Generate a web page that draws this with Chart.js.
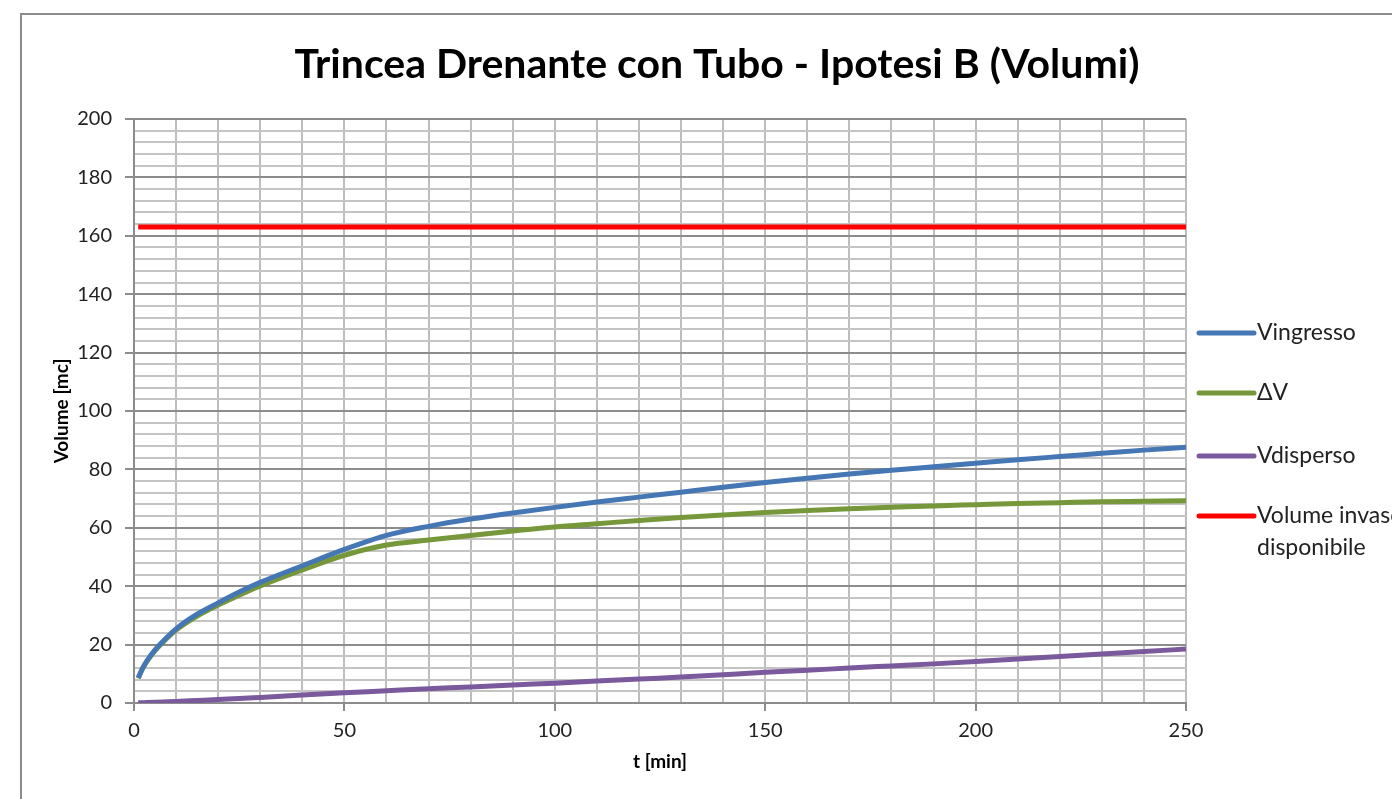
<!DOCTYPE html>
<html>
<head>
<meta charset="utf-8">
<script src="https://cdn.jsdelivr.net/npm/chart.js@4"></script>
<style>
  html,body{margin:0;padding:0;background:#fff;overflow:hidden}
  #wrap{position:relative;width:1392px;height:799px}
  #frame{position:absolute;left:20px;top:13px;width:1400px;height:800px;
    border-left:2px solid #8c8c8c;border-top:2px solid #8c8c8c;box-sizing:border-box}
  canvas{position:absolute;left:0;top:0}
</style>
</head>
<body>
<div id="wrap">
  <div id="frame"></div>
  <canvas id="c" width="1392" height="799"></canvas>
</div>
<script>
// tempi [min]
const tempi = [1,2,3,5,7,10,15,20,25,30,40,50,60,70,80,90,100,110,120,130,140,150,160,170,180,190,200,210,220,230,240,250];
// valori [mc]
const vIngresso = [8.6,11.8,14.3,18.2,21.3,25.4,30.4,34.3,38.0,41.3,47.0,52.6,57.4,60.5,63.0,65.1,67.0,68.8,70.5,72.2,73.9,75.5,77.0,78.4,79.7,80.9,82.1,83.3,84.4,85.5,86.6,87.6];
const deltaV    = [8.5,11.7,14.1,17.9,21.0,25.0,29.8,33.6,36.9,40.1,45.6,50.6,54.1,55.8,57.4,58.9,60.3,61.4,62.5,63.5,64.4,65.2,65.9,66.5,67.0,67.5,67.9,68.3,68.6,68.9,69.1,69.3];
const vDisperso = [0.05,0.1,0.15,0.25,0.35,0.5,0.85,1.2,1.5,1.9,2.7,3.5,4.2,4.9,5.5,6.2,6.8,7.5,8.2,8.9,9.7,10.5,11.2,12.0,12.7,13.4,14.2,15.1,15.9,16.8,17.6,18.5];
const volumeInvaso = 163;
const tInvaso = [1,250];

const titolo = "Trincea Drenante con Tubo - Ipotesi B (Volumi)";
const serie = [
  {label:"Vingresso", y:vIngresso, color:"#4577b4"},
  {label:"ΔV", y:deltaV, color:"#77983a"},
  {label:"Vdisperso", y:vDisperso, color:"#7a5a9c"},
];

const FONT = "Lato";
const pts = (xs,ys)=>xs.map((x,i)=>({x, y:ys[i]}));

const datasets = serie.map(s=>({
  label:s.label, data:pts(tempi,s.y), borderColor:s.color, borderWidth:5,
  pointRadius:0, cubicInterpolationMode:"monotone", fill:false
}));
datasets.push({label:"Volume invaso disponibile", data:pts(tInvaso,[volumeInvaso,volumeInvaso]),
  borderColor:"#ff0000", borderWidth:5, pointRadius:0, fill:false});

// titolo e legenda disegnati a mano, come in Excel (legenda tagliata a destra)
const extraExcel = {
  id:"extraExcel",
  afterDraw(chart){
    const ctx = chart.ctx;
    ctx.save();
    ctx.font = `bold 41px ${FONT}`;
    ctx.fillStyle = "#000";
    ctx.textAlign = "center";
    ctx.textBaseline = "middle";
    ctx.fillText(titolo, 717, 65);

    const voci = [
      {c:"#4577b4", t:["Vingresso"], y:333},
      {c:"#77983a", t:["ΔV"], y:393},
      {c:"#7a5a9c", t:["Vdisperso"], y:456},
      {c:"#ff0000", t:["Volume invaso","disponibile"], y:516},
    ];
    ctx.font = `23px ${FONT}`;
    ctx.fillStyle = "#222";
    ctx.textAlign = "left";
    voci.forEach(v=>{
      ctx.strokeStyle = v.c; ctx.lineWidth = 5; ctx.lineCap = "round";
      ctx.beginPath(); ctx.moveTo(1199,v.y); ctx.lineTo(1254,v.y); ctx.stroke();
      v.t.forEach((r,i)=>ctx.fillText(r,1257,v.y+i*32));
    });
    ctx.restore();
  }
};

new Chart(document.getElementById("c"),{
  type:"line",
  data:{datasets},
  plugins:[extraExcel],
  options:{
    responsive:false, animation:false,
    layout:{padding:{left:0,right:206,top:119,bottom:0}},
    plugins:{
      legend:{display:false},
      tooltip:{enabled:false},
      title:{display:false}
    },
    scales:{
      x:{type:"linear", min:0, max:250,
        afterFit(s){ s.height = 96; },
        ticks:{stepSize:10, autoSkip:false, maxRotation:0, padding:8, color:"#222",
          font:{family:FONT, size:20},
          callback:v=> v%50===0 ? v : ""},
        grid:{color:"#bdbdbd", lineWidth:2, tickLength:8,
          tickColor:c=> c.tick && c.tick.value%50===0 ? "#8c8c8c" : "rgba(0,0,0,0)"},
        border:{color:"#8c8c8c", width:2},
        title:{display:true, text:"t [min]", color:"#000",
          font:{family:FONT, size:19, weight:"bold", lineHeight:1.2}, padding:{top:0,bottom:26}}
      },
      y:{min:0, max:200,
        afterFit(s){ s.width = 134; },
        ticks:{stepSize:4, autoSkip:false, padding:13, color:"#222",
          font:{family:FONT, size:20},
          callback:v=> v%20===0 ? v : ""},
        grid:{lineWidth:2, tickLength:9,
          color:c=> c.tick && c.tick.value%20===0 ? "#8c8c8c" : "#c4c4c4",
          tickColor:c=> c.tick && c.tick.value%20===0 ? "#8c8c8c" : "rgba(0,0,0,0)"},
        border:{color:"#8c8c8c", width:2},
        title:{display:true, text:"Volume [mc]", color:"#000",
          font:{family:FONT, size:19, weight:"bold", lineHeight:1.2}, padding:{top:50,bottom:0}}
      }
    }
  }
});
</script>
</body>
</html>
